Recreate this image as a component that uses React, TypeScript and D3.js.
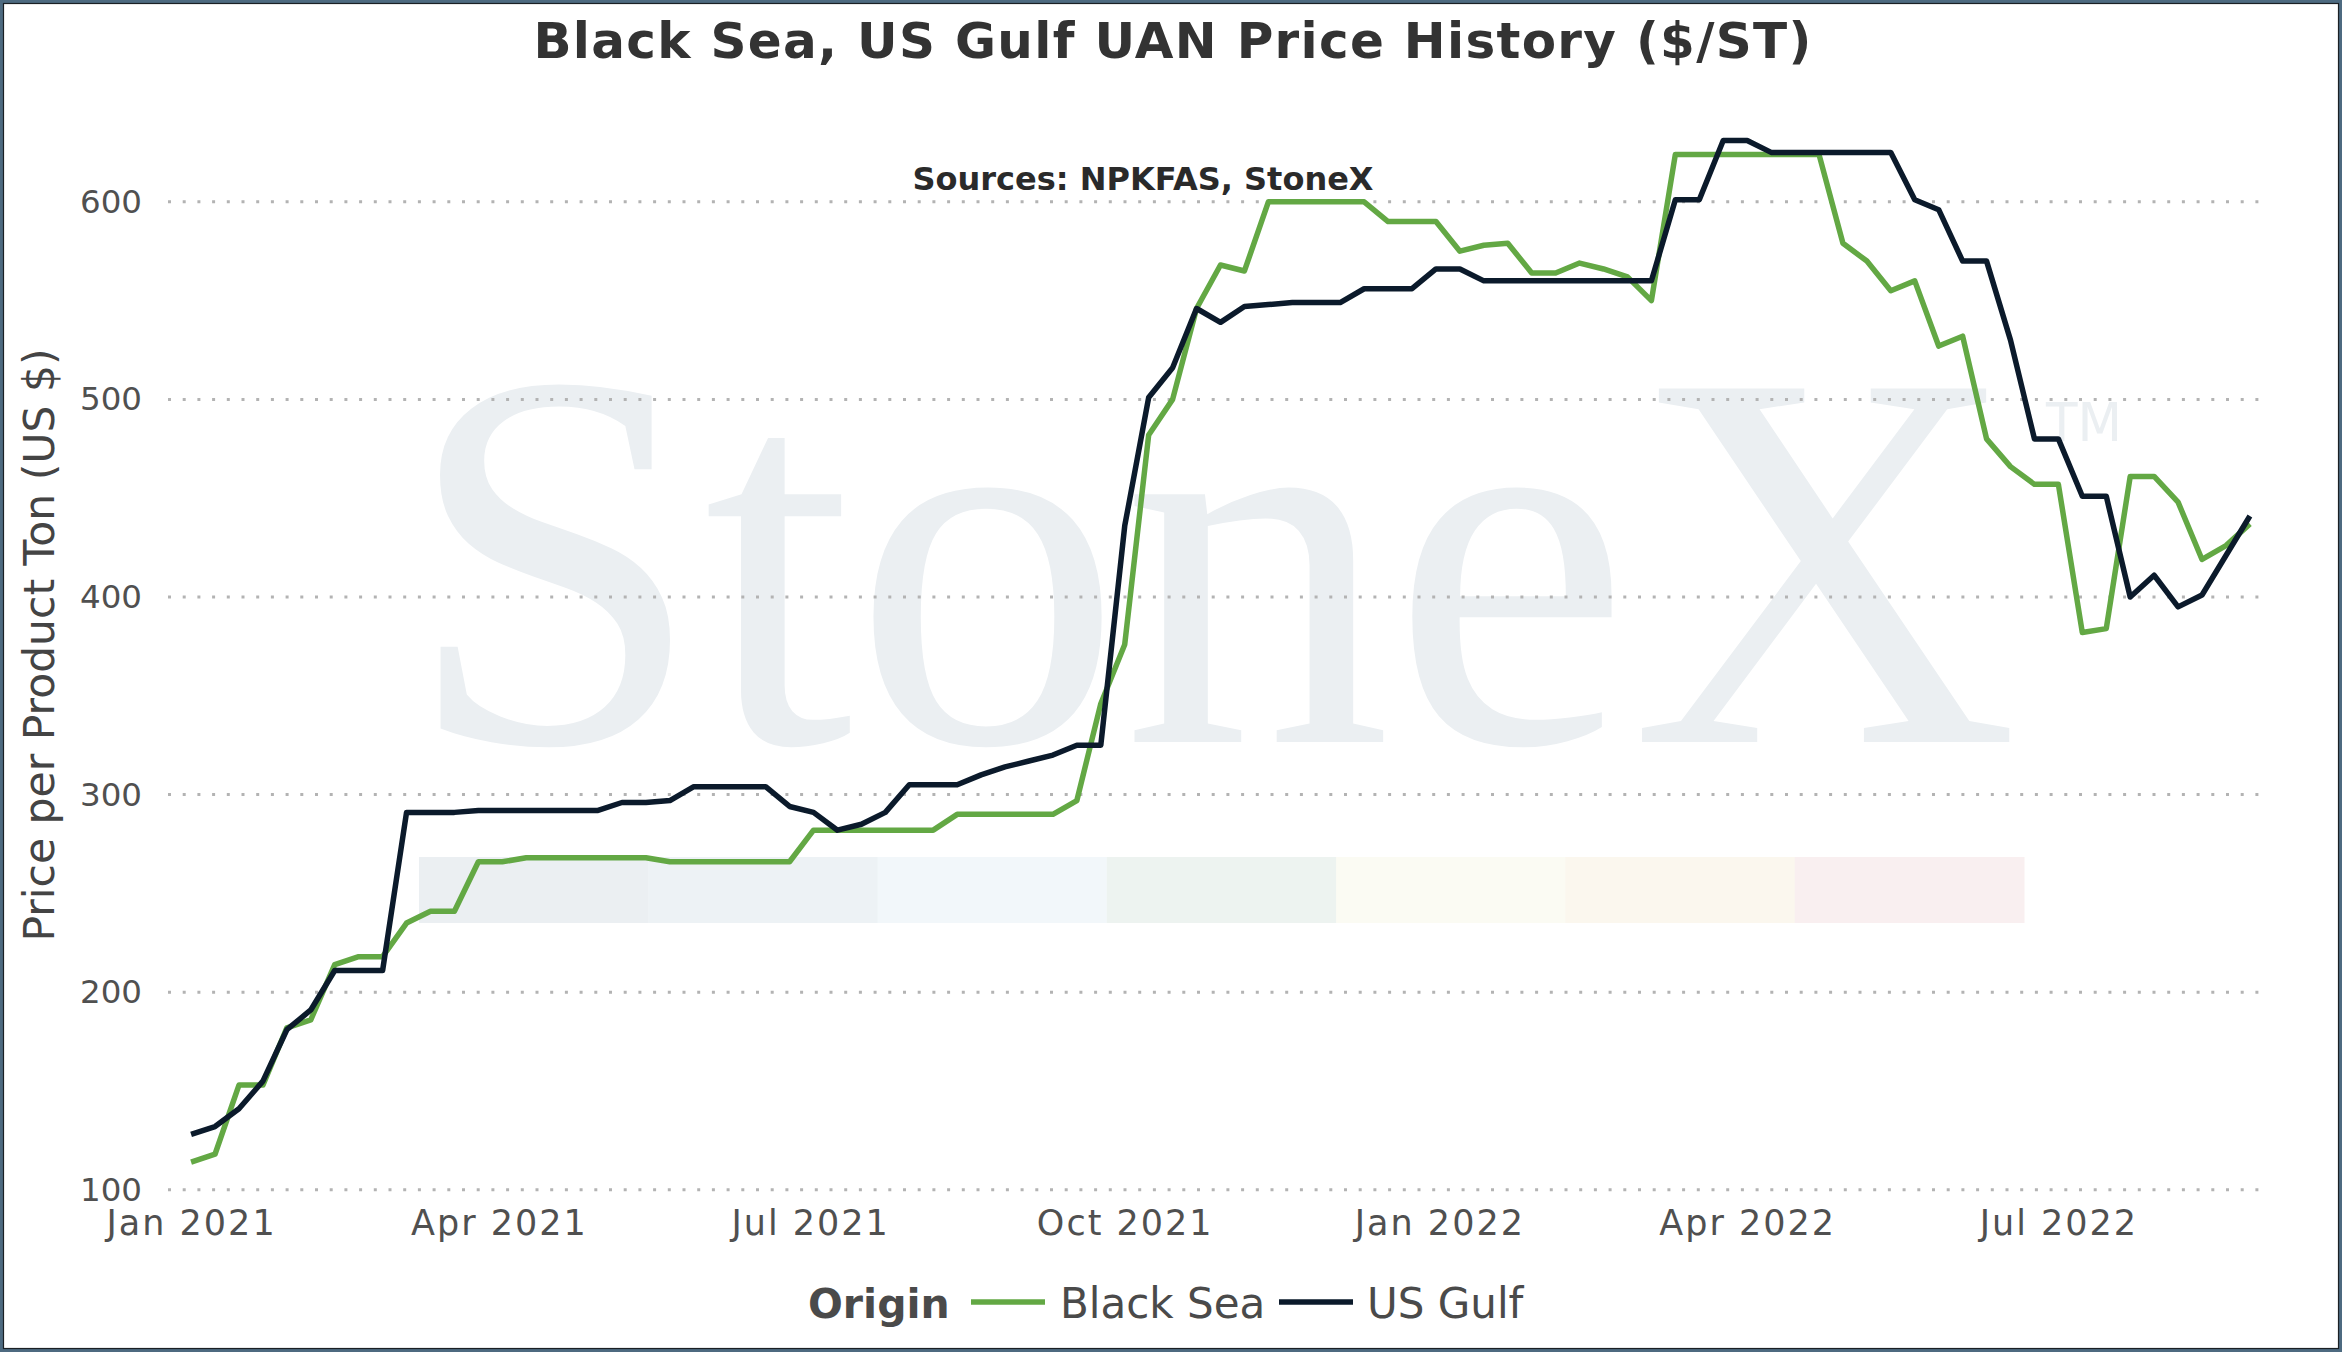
import React, { useEffect, useRef } from 'react'
import * as d3 from 'd3'

const W = 2342
const H = 1352

// weekly observations, Fridays
const firstWeek = new Date(Date.UTC(2021, 0, 1))
const lastWeek = new Date(Date.UTC(2022, 7, 26))

const blackSea = [
  114, 118, 153, 153, 182, 186, 214, 218, 218, 235,
  241, 241, 266, 266, 268, 268, 268, 268, 268, 268,
  266, 266, 266, 266, 266, 266, 282, 282, 282, 282,
  282, 282, 290, 290, 290, 290, 290, 297, 346, 376,
  482, 500, 546, 568, 565, 600, 600, 600, 600, 600,
  590, 590, 590, 575, 578, 579, 564, 564, 569, 566,
  562, 550, 624, 624, 624, 624, 624, 624, 624, 579,
  570, 555, 560, 527, 532, 480, 466, 457, 457, 382,
  384, 461, 461, 448, 419, 426, 437,
]

const usGulf = [
  128, 132, 141, 155, 181, 191, 211, 211, 211, 291,
  291, 291, 292, 292, 292, 292, 292, 292, 296, 296,
  297, 304, 304, 304, 304, 294, 291, 282, 285, 291,
  305, 305, 305, 310, 314, 317, 320, 325, 325, 436,
  501, 516, 546, 539, 547, 548, 549, 549, 549, 556,
  556, 556, 566, 566, 560, 560, 560, 560, 560, 560,
  560, 560, 601, 601, 631, 631, 625, 625, 625, 625,
  625, 625, 601, 596, 570, 570, 530, 480, 480, 451,
  451, 400, 411, 395, 401, 421, 441,
]

const yTicks = [100, 200, 300, 400, 500, 600]
const xTicks = [
  '2021-01-01', '2021-04-01', '2021-07-01', '2021-10-01',
  '2022-01-01', '2022-04-01', '2022-07-01',
]
const xDomain = ['2020-12-25T06:00:00Z', '2022-08-31T00:00:00Z']

const seriesNames = ['Black Sea', 'US Gulf']
const colors = ['#63a844', '#0b1a2b']

// pale stripe of the watermark logo
const bandColors = ['#ebeff2', '#edf2f5', '#f2f7fa', '#edf3f0', '#fbfbf3', '#fbf7ee', '#f9eff0']

const font = '"DejaVu Sans", Verdana, sans-serif'

const App: React.FC = () => {
  const svgRef = useRef<SVGSVGElement | null>(null)

  useEffect(() => {
    document.body.style.margin = '0'
    if (!svgRef.current) return
    const svg = d3.select(svgRef.current)
    svg.selectAll('*').remove()

    const margin = { left: 168, right: W - 2267 }
    const x = d3
      .scaleUtc()
      .domain(xDomain.map((d) => new Date(d)))
      .range([margin.left, W - margin.right])
    const y = d3.scaleLinear().domain([100, 600]).range([1189.8, 201.8])

    const weeks = d3.utcDay.range(firstWeek, d3.utcDay.offset(lastWeek, 1), 7)

    svg.append('rect').attr('width', W).attr('height', H).attr('fill', '#fff')

    // ----------- watermark -----------
    const wm = svg.append('g')
    const band = d3
      .scaleBand<number>()
      .domain(d3.range(bandColors.length))
      .range([419, 2024])
    wm.selectAll('rect')
      .data(bandColors)
      .enter()
      .append('rect')
      .attr('x', (_, i) => band(i)!)
      .attr('y', 857)
      .attr('width', band.bandwidth() + 0.5)
      .attr('height', 66)
      .attr('fill', (d) => d)
    wm.append('text')
      .attr('x', 404)
      .attr('y', 742)
      .attr('font-family', '"Liberation Serif", "Times New Roman", serif')
      .attr('font-size', 540)
      .attr('textLength', 1615)
      .attr('lengthAdjust', 'spacingAndGlyphs')
      .attr('fill', '#ebeff2')
      .text('StoneX')
    wm.append('text')
      .attr('x', 2046)
      .attr('y', 441)
      .attr('font-family', font)
      .attr('font-size', 54)
      .attr('textLength', 76)
      .attr('lengthAdjust', 'spacingAndGlyphs')
      .attr('fill', '#ebeff2')
      .text('TM')

    // ----------- grid -----------
    svg
      .append('g')
      .selectAll('line')
      .data(yTicks)
      .enter()
      .append('line')
      .attr('x1', margin.left)
      .attr('x2', W - margin.right)
      .attr('y1', (d) => y(d))
      .attr('y2', (d) => y(d))
      .attr('stroke', '#b3b3b3')
      .attr('stroke-width', 3)
      .attr('stroke-dasharray', '3,11.7')

    // ----------- axes -----------
    const yAxis = svg
      .append('g')
      .attr('transform', `translate(${margin.left},0)`)
      .call(d3.axisLeft(y).tickValues(yTicks).tickSize(0).tickPadding(26))
    yAxis.select('.domain').remove()
    yAxis
      .selectAll('text')
      .attr('font-family', font)
      .attr('font-size', 32.5)
      .attr('fill', '#505050')

    const xAxis = svg
      .append('g')
      .attr('transform', `translate(0,${y(100)})`)
      .call(
        d3
          .axisBottom(x)
          .tickValues(xTicks.map((d) => new Date(d)))
          .tickFormat((d) => d3.utcFormat('%b %Y')(d as Date))
          .tickSize(0)
          .tickPadding(20),
      )
    xAxis.select('.domain').remove()
    xAxis
      .selectAll('text')
      .attr('font-family', font)
      .attr('font-size', 35)
      .attr('letter-spacing', 2)
      .attr('fill', '#505050')

    // ----------- lines -----------
    const line = d3
      .line<number>()
      .x((_, i) => x(weeks[i]))
      .y((d) => y(d))
    ;[blackSea, usGulf].forEach((values, i) => {
      svg
        .append('path')
        .attr('d', line(values)!)
        .attr('fill', 'none')
        .attr('stroke', colors[i])
        .attr('stroke-width', 5.5)
        .attr('stroke-linejoin', 'round')
    })

    // ----------- titles -----------
    svg
      .append('text')
      .attr('x', 1173)
      .attr('y', 58)
      .attr('text-anchor', 'middle')
      .attr('font-family', font)
      .attr('font-weight', 'bold')
      .attr('font-size', 50)
      .attr('letter-spacing', 1.3)
      .attr('fill', '#333')
      .text('Black Sea, US Gulf UAN Price History ($/ST)')
    svg
      .append('text')
      .attr('x', 1143)
      .attr('y', 190)
      .attr('text-anchor', 'middle')
      .attr('font-family', font)
      .attr('font-weight', 'bold')
      .attr('font-size', 32)
      .attr('fill', '#2a2a2a')
      .text('Sources: NPKFAS, StoneX')
    svg
      .append('text')
      .attr('transform', 'translate(54,645) rotate(-90)')
      .attr('text-anchor', 'middle')
      .attr('font-family', font)
      .attr('font-size', 42.5)
      .attr('fill', '#444')
      .text('Price per Product Ton (US $)')

    // ----------- legend -----------
    const legend = svg.append('g').attr('font-family', font).attr('fill', '#4a4a4a')
    legend
      .append('text')
      .attr('x', 808)
      .attr('y', 1318)
      .attr('font-weight', 'bold')
      .attr('font-size', 41)
      .text('Origin')
    const items = [
      { sx: 971, tx: 1060 },
      { sx: 1279, tx: 1367 },
    ]
    items.forEach((it, i) => {
      legend
        .append('line')
        .attr('x1', it.sx)
        .attr('x2', it.sx + 74)
        .attr('y1', 1302)
        .attr('y2', 1302)
        .attr('stroke', colors[i])
        .attr('stroke-width', 5.5)
      legend
        .append('text')
        .attr('x', it.tx)
        .attr('y', 1318)
        .attr('font-size', 42)
        .text(seriesNames[i])
    })

    // ----------- frame -----------
    svg
      .append('rect')
      .attr('x', 1.5)
      .attr('y', 1.5)
      .attr('width', W - 3)
      .attr('height', H - 3)
      .attr('fill', 'none')
      .attr('stroke', '#4d6a80')
      .attr('stroke-width', 3)
    svg
      .append('rect')
      .attr('x', 3.5)
      .attr('y', 3.5)
      .attr('width', W - 7)
      .attr('height', H - 7)
      .attr('fill', 'none')
      .attr('stroke', '#1a1f24')
      .attr('stroke-width', 1.2)
  }, [])

  return <svg ref={svgRef} width={W} height={H} style={{ display: 'block' }}></svg>
}

export default App
